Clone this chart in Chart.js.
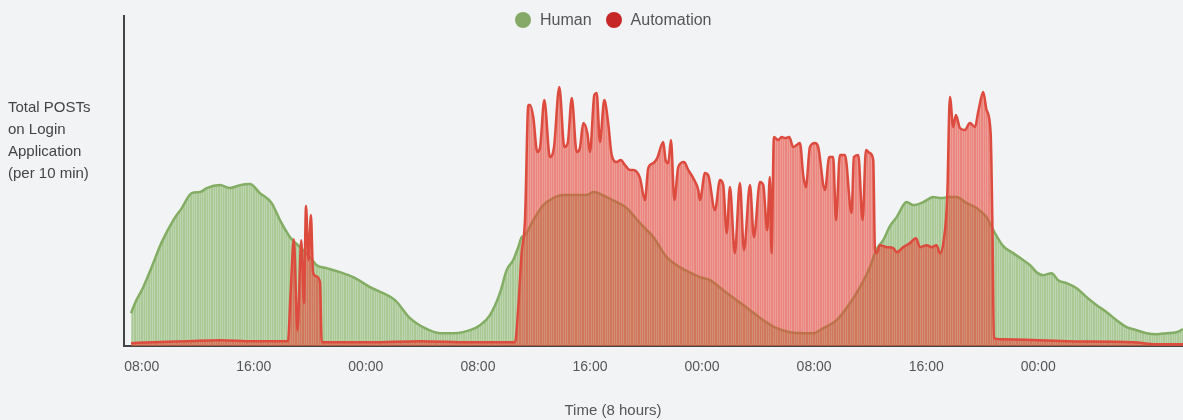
<!DOCTYPE html>
<html>
<head>
<meta charset="utf-8">
<script src="https://cdn.jsdelivr.net/npm/chart.js@4.4.1/dist/chart.umd.min.js"></script>
<style>
  html, body { margin: 0; padding: 0; background: #f2f3f5; }
  body { font-family: "Liberation Sans", Arial, Helvetica, sans-serif; }
  #wrap { position: relative; width: 1183px; height: 420px; }
  #legend { position: absolute; left: 515px; top: 10px; height: 20px; display: flex; align-items: center; font-size: 16px; color: #555; }
  #legend .dot { width: 16px; height: 16px; border-radius: 50%; margin-right: 9px; }
  #legend .item { display: flex; align-items: center; margin-right: 14px; line-height: 20px; }
  #ytitle { position: absolute; left: 8px; top: 96px; font-size: 15px; line-height: 22px; color: #444; }
  #xtitle { position: absolute; left: 0; width: 1226px; top: 400px; text-align: center; font-size: 15px; line-height: 20px; color: #555; }
</style>
</head>
<body>
<div id="wrap">
  <canvas id="chart" width="1183" height="420"></canvas>
  <div id="legend">
    <div class="item"><div class="dot" style="background:#86a96a"></div>Human</div>
    <div class="item"><div class="dot" style="background:#c62828"></div>Automation</div>
  </div>
  <div id="ytitle">Total POSTs<br>on Login<br>Application<br>(per 10 min)</div>
  <div id="xtitle">Time (8 hours)</div>
</div>
<script>
'use strict';

// hours after the first 08:00 tick
const tickHours = [0, 8, 16, 24, 32, 40, 48, 56, 64];
const tickLabels = ['08:00', '16:00', '00:00', '08:00', '16:00', '00:00', '08:00', '16:00', '00:00'];

const humanHours = [-0.76, -0.48, 0.11, 0.71, 1.43, 2.26, 2.86, 3.57, 4.16, 4.64, 5.59, 6.30, 7.02, 7.73, 8.44, 9.28, 9.87, 10.59, 11.30, 12.01, 12.49, 13.20, 14.15, 15.10, 16.30, 18.08, 19.15, 20.22, 21.29, 22.36, 23.43, 24.15, 24.86, 25.57, 26.05, 26.52, 26.88, 27.12, 27.36, 27.95, 28.67, 29.38, 30.09, 31.05, 31.76, 32.23, 33.19, 33.90, 34.62, 35.57, 36.52, 37.47, 38.42, 39.37, 39.85, 40.56, 41.51, 42.47, 43.42, 44.37, 45.33, 46.27, 47.22, 47.94, 48.65, 49.61, 50.56, 51.27, 51.98, 52.46, 52.93, 53.41, 53.89, 54.60, 55.08, 55.79, 56.50, 57.10, 57.57, 58.17, 58.89, 59.60, 60.31, 60.79, 61.50, 62.21, 62.93, 63.41, 63.88, 64.35, 64.95, 65.42, 66.02, 66.74, 67.45, 68.17, 68.88, 69.59, 70.31, 71.02, 71.73, 72.45, 73.16, 73.87, 74.33];
const humanValues = [33, 43, 59, 79, 104, 126, 138, 153, 154, 158, 161, 158, 161, 162, 153, 143, 126, 109, 99, 89, 81, 78, 74, 69, 59, 46, 28, 18, 13, 13, 16, 21, 31, 53, 76, 86, 99, 109, 111, 126, 141, 148, 151, 151, 151, 154, 149, 144, 138, 123, 109, 89, 79, 72, 69, 66, 56, 46, 36, 26, 18, 14, 13, 13, 18, 26, 43, 59, 79, 97, 106, 120, 129, 144, 141, 144, 149, 148, 149, 149, 143, 138, 129, 116, 100, 93, 86, 81, 74, 71, 73, 66, 63, 58, 49, 41, 34, 26, 19, 16, 13, 12, 13, 14, 17];

const autoHours = [-0.76, 0.81, 3.21, 5.59, 7.94, 10.44, 10.62, 10.86, 11.12, 11.39, 11.58, 11.73, 11.91, 12.08, 12.23, 12.44, 12.73, 12.85, 16.30, 19.86, 23.43, 26.65, 26.88, 27.12, 27.36, 27.60, 27.72, 27.95, 28.24, 28.43, 28.74, 29.14, 29.43, 29.81, 30.17, 30.41, 30.70, 31.05, 31.28, 31.52, 31.81, 32.00, 32.31, 32.48, 32.71, 33.02, 33.30, 33.55, 33.90, 34.19, 34.50, 34.86, 35.09, 35.57, 35.92, 36.16, 36.52, 36.80, 37.23, 37.40, 37.59, 37.78, 38.02, 38.30, 38.71, 39.02, 39.37, 39.73, 39.85, 40.21, 40.44, 40.92, 41.28, 41.51, 41.76, 41.99, 42.34, 42.70, 42.99, 43.42, 43.70, 44.13, 44.37, 44.65, 44.84, 44.96, 45.13, 45.44, 45.68, 45.92, 46.22, 46.51, 46.75, 46.99, 47.22, 47.41, 47.70, 48.06, 48.29, 48.77, 49.08, 49.36, 49.56, 49.84, 50.20, 50.67, 50.84, 51.15, 51.46, 51.70, 51.98, 52.22, 52.34, 52.46, 52.69, 53.17, 53.65, 53.89, 54.36, 54.84, 55.27, 55.55, 56.03, 56.39, 56.74, 56.98, 57.22, 57.50, 57.69, 57.93, 58.12, 58.41, 58.76, 59.12, 59.48, 59.71, 60.07, 60.31, 60.60, 60.74, 60.83, 61.26, 66.02, 70.75, 72.45, 74.33];
const autoValues = [3, 4, 5, 6, 5, 5, 50, 107, 16, 106, 43, 140, 86, 131, 74, 70, 64, 4, 4, 5, 4, 4, 39, 93, 126, 241, 241, 229, 194, 198, 246, 189, 199, 259, 199, 203, 248, 194, 198, 223, 213, 194, 251, 253, 204, 246, 223, 191, 184, 186, 181, 176, 176, 168, 146, 178, 183, 188, 204, 186, 183, 206, 146, 179, 184, 176, 168, 156, 146, 173, 171, 136, 166, 161, 113, 159, 93, 163, 96, 161, 109, 164, 161, 116, 169, 93, 209, 206, 209, 208, 209, 199, 201, 203, 171, 159, 199, 203, 199, 156, 189, 189, 126, 191, 191, 133, 189, 191, 126, 196, 193, 186, 96, 93, 101, 99, 98, 94, 99, 103, 108, 99, 101, 99, 101, 93, 103, 149, 249, 219, 231, 218, 216, 223, 219, 234, 254, 236, 213, 106, 8, 7, 5, 4, 2, 2];

const canvas = document.getElementById('chart');
const ctx = canvas.getContext('2d');

// thin vertical stripes like the original per-interval fill
function stripeFill(rgb, dark, light) {
  const c = document.createElement('canvas');
  c.width = 7; c.height = 4;
  const g = c.getContext('2d');
  for (let i = 0; i < 7; i++) {
    g.fillStyle = `rgba(${rgb},${[0, 3, 5].includes(i) ? light : dark})`;
    g.fillRect(i, 0, 1, 4);
  }
  return ctx.createPattern(c, 'repeat');
}

const toPoints = (hours, values) => hours.map((h, i) => ({ x: h, y: values[i] }));

new Chart(canvas, {
  type: 'line',
  data: {
    datasets: [
      {
        label: 'Human',
        data: toPoints(humanHours, humanValues),
        borderColor: '#82ad63',
        backgroundColor: stripeFill('120,172,84', 0.6, 0.42),
        borderWidth: 2.5,
        fill: 'origin',
        pointRadius: 0,
        cubicInterpolationMode: 'monotone',
        order: 1,
      },
      {
        label: 'Automation',
        data: toPoints(autoHours, autoValues),
        borderColor: '#dc4b3e',
        backgroundColor: stripeFill('230,75,60', 0.66, 0.5),
        borderWidth: 2.5,
        fill: 'origin',
        pointRadius: 0,
        cubicInterpolationMode: 'monotone',
        order: 0,
      },
    ],
  },
  options: {
    responsive: false,
    animation: false,
    layout: { padding: { left: 124, top: 16, right: 0, bottom: 31 } },
    plugins: { legend: { display: false }, tooltip: { enabled: false } },
    scales: {
      x: {
        type: 'linear',
        min: -1.263,
        max: 74.33,
        grid: { display: false, drawTicks: false },
        border: { color: '#444', width: 2 },
        afterBuildTicks: (scale) => { scale.ticks = tickHours.map(v => ({ value: v })); },
        ticks: {
          autoSkip: false,
          maxRotation: 0,
          padding: 13,
          color: '#555',
          font: { family: '"Liberation Sans", Arial, sans-serif', size: 14 },
          callback: (value, index) => tickLabels[index],
        },
      },
      y: {
        min: 0,
        max: 330,
        grid: { display: false, drawTicks: false },
        border: { color: '#444', width: 2 },
        ticks: { display: false },
      },
    },
  },
});
</script>
</body>
</html>
